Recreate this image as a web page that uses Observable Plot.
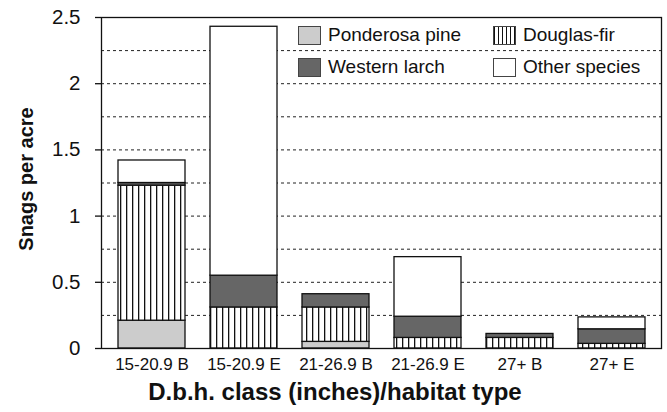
<!DOCTYPE html>
<html>
<head>
<meta charset="utf-8">
<script src="https://cdn.jsdelivr.net/npm/d3@7"></script>
<script src="https://cdn.jsdelivr.net/npm/@observablehq/plot@0.6"></script>
<style>
  html, body { margin: 0; padding: 0; background: #fff; }
  #wrap { position: relative; width: 667px; height: 412px; font-family: "Liberation Sans", Arial, sans-serif; }
  .leg { position: absolute; font-size: 19px; color: #111; display: flex; align-items: center; white-space: nowrap; }
  .sw { width: 21px; height: 17px; border: 1px solid #444; margin-right: 7px; box-sizing: content-box; }
</style>
</head>
<body>
<div id="wrap"></div>
<script>
const classes = ["15-20.9 B", "15-20.9 E", "21-26.9 B", "21-26.9 E", "27+ B", "27+ E"];
const species = ["Ponderosa pine", "Douglas-fir", "Western larch", "Other species"];
const ponderosa = [0.21, 0, 0.05, 0, 0, 0];
const douglasFir = [1.02, 0.31, 0.26, 0.08, 0.08, 0.035];
const westernLarch = [0.02, 0.24, 0.10, 0.16, 0.03, 0.11];
const otherSpecies = [0.17, 1.88, 0, 0.45, 0, 0.09];
const yTicks = [0, 0.5, 1, 1.5, 2, 2.5];
const gridVals = [0.25, 0.5, 0.75, 1, 1.25, 1.5, 1.75, 2, 2.25];
const xTitle = "D.b.h. class (inches)/habitat type";
const yTitle = "Snags per acre";

const series = [ponderosa, douglasFir, westernLarch, otherSpecies];
const data = [];
classes.forEach((c, i) => {
  species.forEach((s, j) => data.push({cls: c, species: s, value: series[j][i]}));
});

const fills = ["#cccccc", "url(#dfStripes)", "#666666", "#ffffff"];

const chart = Plot.plot({
  width: 667,
  height: 412,
  marginTop: 17,
  marginBottom: 64,
  marginLeft: 101,
  marginRight: 6,
  style: {fontFamily: "Liberation Sans, Arial, sans-serif", color: "#111", background: "white"},
  x: {domain: classes, paddingInner: 0.275, paddingOuter: 0.17, label: null},
  y: {domain: [0, 2.5], label: null},
  color: {domain: species, range: fills},
  marks: [
    Plot.ruleY(gridVals, {stroke: "#222", strokeWidth: 1, strokeDasharray: "3,3"}),
    Plot.barY(data, {x: "cls", y: "value", fill: "species", order: species, stroke: "#111", strokeWidth: 1.3}),
    Plot.frame({stroke: "#111", strokeWidth: 1.3}),
    Plot.axisY({ticks: yTicks, tickSize: 6, tickPadding: 15, fontSize: 20.5, tickFormat: d => String(d), label: null, strokeWidth: 1.3}),
    Plot.axisX({tickSize: 0, tickPadding: 9, fontSize: 17, label: null})
  ]
});

const svg = d3.select(chart);
const defs = svg.insert("defs", ":first-child");
const pat = defs.append("pattern").attr("id", "dfStripes").attr("patternUnits", "userSpaceOnUse")
  .attr("width", 6).attr("height", 10);
pat.append("rect").attr("width", 6).attr("height", 10).attr("fill", "white");
pat.append("rect").attr("x", 0).attr("width", 1.3).attr("height", 10).attr("fill", "#111");

svg.append("text").attr("x", 335).attr("y", 400).attr("text-anchor", "middle")
  .attr("font-size", 24).attr("font-weight", "bold").attr("fill", "#111").text(xTitle);
svg.append("text").attr("transform", "translate(33,179) rotate(-90)").attr("text-anchor", "middle")
  .attr("font-size", 20).attr("font-weight", "bold").attr("fill", "#111").text(yTitle);

const wrap = document.getElementById("wrap");
wrap.appendChild(chart);

const legendPos = [[298, 35], [493, 35], [298, 67], [493, 67]];
const swatchBg = ["#cccccc", "repeating-linear-gradient(90deg, #111 0 1.3px, #fff 1.3px 4px)", "#666666", "#ffffff"];
species.forEach((s, i) => {
  const d = document.createElement("div");
  d.className = "leg";
  d.style.left = legendPos[i][0] + "px";
  d.style.top = (legendPos[i][1] - 11) + "px";
  d.style.height = "22px";
  const sw = document.createElement("div");
  sw.className = "sw";
  sw.style.background = swatchBg[i];
  const t = document.createElement("span");
  t.textContent = s;
  d.appendChild(sw);
  d.appendChild(t);
  wrap.appendChild(d);
});
</script>
</body>
</html>
